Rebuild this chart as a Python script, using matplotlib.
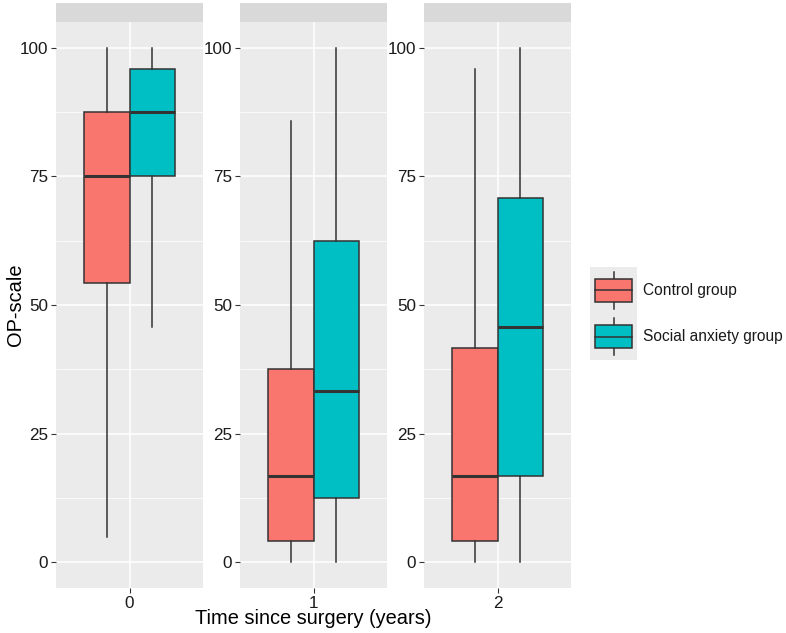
import numpy as np
import matplotlib.pyplot as plt
from matplotlib.patches import Rectangle

plt.rcParams['font.family'] = ['Liberation Sans', 'DejaVu Sans']

times = ['0', '1', '2']
groups = ['Control group', 'Social anxiety group']
colors = ['#F8766D', '#00BFC4']

# five-number summaries per time point: [low whisker, q1, median, q3, high whisker]
control = [
    [5.0, 54.2, 75.0, 87.5, 100.0],
    [0.0, 4.2, 16.7, 37.5, 85.7],
    [0.0, 4.2, 16.7, 41.7, 95.8],
]
social = [
    [45.8, 75.0, 87.5, 95.8, 100.0],
    [0.0, 12.5, 33.3, 62.5, 100.0],
    [0.0, 16.7, 45.8, 70.8, 100.0],
]
yticks = [0, 25, 50, 75, 100]

W, H = 786, 633
fig = plt.figure(figsize=(W / 100, H / 100), dpi=100)

panel_bg = '#EBEBEB'
strip_bg = '#D9D9D9'
dark = '#333333'
txt = '#1A1A1A'

lefts = [56, 240, 424]
pw = 147
ptop, pbot = 22, 588
stop = 3


def fa(x0, y0, w, h):
    return [x0 / W, 1 - (y0 + h) / H, w / W, h / H]


def stats(v):
    return dict(whislo=v[0], q1=v[1], med=v[2], q3=v[3], whishi=v[4], fliers=[])


for i, t in enumerate(times):
    ax = fig.add_axes(fa(lefts[i], ptop, pw, pbot - ptop))
    ax.set_facecolor(panel_bg)
    ax.set_xlim(0.4, 1.6)
    ax.set_ylim(-5, 105)
    ax.set_yticks(yticks)
    ax.set_yticks([12.5, 37.5, 62.5, 87.5], minor=True)
    ax.set_xticks([1])
    ax.set_xticklabels([t])
    ax.grid(True, which='major', color='white', lw=1.1)
    ax.grid(True, which='minor', axis='y', color='white', lw=0.55)
    ax.set_axisbelow(True)
    for s in ax.spines.values():
        s.set_visible(False)
    ax.tick_params(which='major', length=3.5, width=0.8, color=dark,
                   labelsize=12.3, labelcolor=txt, pad=2)
    ax.tick_params(which='minor', length=0)

    for j, (vals, col) in enumerate(zip([control[i], social[i]], colors)):
        pos = 1 + (j - 0.5) * 0.375
        ax.bxp([stats(vals)], positions=[pos], widths=0.375, patch_artist=True,
               showcaps=False, showfliers=False,
               boxprops=dict(facecolor=col, edgecolor=dark, lw=1.1),
               whiskerprops=dict(color=dark, lw=1.1),
               medianprops=dict(color=dark, lw=2.2),
               manage_ticks=False)

    sax = fig.add_axes(fa(lefts[i], stop, pw, ptop - stop))
    sax.set_facecolor(strip_bg)
    sax.set_xticks([])
    sax.set_yticks([])
    for s in sax.spines.values():
        s.set_visible(False)

fig.text((lefts[0] + lefts[2] + pw) / 2 / W, 1 - 619 / H, 'Time since surgery (years)',
         ha='center', va='center', fontsize=14.4, color='black')
fig.text(15 / W, 1 - (ptop + pbot) / 2 / H, 'OP-scale', rotation=90,
         ha='center', va='center', fontsize=14.4, color='black')

# legend
lax = fig.add_axes(fa(590, 267, 47, 93))
lax.set_xlim(0, 1)
lax.set_ylim(0, 2)
lax.set_facecolor('#EBEBEB')
lax.set_xticks([])
lax.set_yticks([])
for s in lax.spines.values():
    s.set_visible(False)
for k, col in enumerate(colors):
    yc = 1.5 - k
    lax.plot([0.5, 0.5], [yc - 0.4, yc + 0.4], color=dark, lw=1.1)
    lax.add_patch(Rectangle((0.11, yc - 0.25), 0.78, 0.5, facecolor=col, edgecolor=dark, lw=1.1, zorder=3))
    lax.plot([0.11, 0.89], [yc, yc], color=dark, lw=1.1, zorder=4)
    fig.text(643 / W, 1 - (267 + 93 * (0.25 + 0.5 * k)) / H, groups[k],
             ha='left', va='center', fontsize=11.2, color=txt)

fig.savefig('out.png', dpi=100)
